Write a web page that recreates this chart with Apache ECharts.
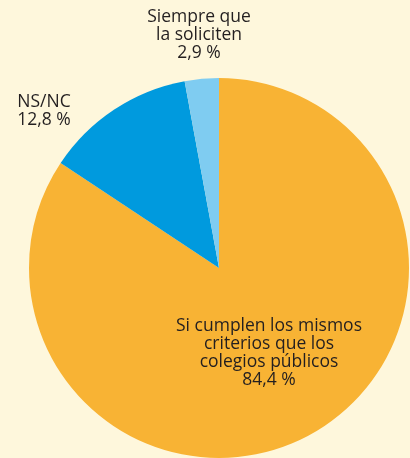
<!DOCTYPE html>
<html>
<head>
    <meta charset="UTF-8"/>
    <title>pie</title>
    <script src="https://cdn.jsdelivr.net/npm/echarts@6/dist/echarts.min.js"></script>
    <style>
        html, body { margin: 0; padding: 0; background: #fef7dc; }
        #main { width: 410px; height: 458px; }
    </style>
</head>
<body>
<div id="main"></div>
<script>
    // datos del gráfico
    var categories = ['Si cumplen los mismos\ncriterios que los\ncolegios públicos', 'NS/NC', 'Siempre que\nla soliciten'];
    var values = [84.4, 12.8, 2.9];
    var colors = ['#f8b334', '#009ade', '#7fccf1'];

    // posición de cada etiqueta (x, y)
    var labelPos = [[269, 353], [44, 111], [199, 35]];

    var chart = echarts.init(document.getElementById('main'));
    chart.setOption({
        backgroundColor: '#fef7dc',
        animation: false,
        series: [{
            type: 'pie',
            center: [219, 268],
            radius: 190,
            startAngle: 90,
            clockwise: true,
            data: categories.map(function (c, i) {
                return { name: c, value: values[i], itemStyle: { color: colors[i] } };
            }),
            label: {
                show: true,
                formatter: function (p) {
                    return p.name + '\n' + p.value.toFixed(1).replace('.', ',') + ' %';
                },
                fontFamily: 'Open Sans',
                fontSize: 17.5,
                lineHeight: 18,
                color: '#231f20',
                align: 'center',
                overflow: 'none',
                width: 300
            },
            labelLine: { show: false },
            labelLayout: function (params) {
                var p = labelPos[params.dataIndex];
                return { x: p[0], y: p[1], align: 'center', verticalAlign: 'middle', width: 300 };
            }
        }]
    });
</script>
</body>
</html>
